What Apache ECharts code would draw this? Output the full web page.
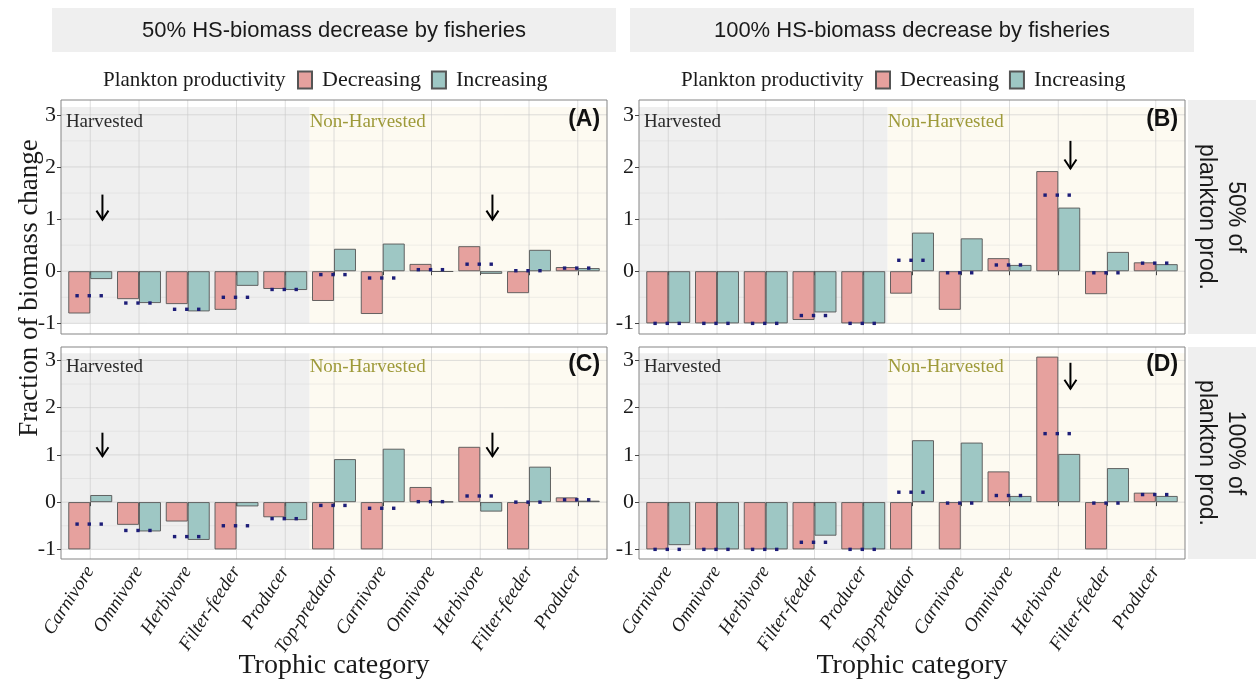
<!DOCTYPE html>
<html><head><meta charset="utf-8">
<script src="https://cdn.jsdelivr.net/npm/echarts@6/dist/echarts.min.js"></script>
<style>html,body{margin:0;padding:0;background:#fff}#c{width:1256px;height:684px}</style>
</head><body><div id="c"></div>
<script>
// ---------------- DATA ----------------
const categories = ['Carnivore','Omnivore','Herbivore','Filter-feeder','Producer','Top-predator','Carnivore','Omnivore','Herbivore','Filter-feeder','Producer'];
const harvestedCount = 5;               // first 5 categories are harvested
const yTicks = [-1, 0, 1, 2, 3];
const yMinor = [-0.5, 0.5, 1.5, 2.5];
const seriesNames = ['Decreasing', 'Increasing'];

// (A) 50% HS decrease, 50% plankton prod.
const decA = [-0.81, -0.535, -0.63, -0.74, -0.34, -0.57, -0.82, 0.14, 0.48, -0.42, 0.08];
const incA = [-0.15, -0.61, -0.77, -0.28, -0.36, 0.43, 0.53, -0.01, -0.05, 0.41, 0.06];
const refA = [-0.47, -0.61, -0.73, -0.50, -0.35, -0.065, -0.13, 0.03, 0.135, 0.01, 0.06];
// (B) 100% HS decrease, 50% plankton prod.
const decB = [-1, -1, -1, -0.935, -1, -0.43, -0.74, 0.25, 1.92, -0.44, 0.17];
const incB = [-0.99, -1, -1, -0.79, -1, 0.74, 0.63, 0.12, 1.22, 0.37, 0.135];
const refB = [-1, -1, -1, -0.85, -1, 0.21, -0.03, 0.12, 1.46, -0.03, 0.155];
// (C) 50% HS decrease, 100% plankton prod.
const decC = [-1, -0.48, -0.41, -1, -0.32, -1, -1, 0.32, 1.17, -1, 0.10];
const incC = [0.15, -0.62, -0.80, -0.09, -0.38, 0.91, 1.13, 0.01, -0.20, 0.75, 0.03];
const refC = [-0.465, -0.60, -0.73, -0.50, -0.35, -0.07, -0.13, 0.01, 0.13, 0.0, 0.05];
// (D) 100% HS decrease, 100% plankton prod.
const decD = [-1, -1, -1, -1, -1, -1, -1, 0.65, 3.08, -1, 0.20];
const incD = [-0.91, -1, -1, -0.71, -1, 1.31, 1.26, 0.13, 1.02, 0.72, 0.13];
const refD = [-1, -1, -1, -0.85, -1, 0.21, -0.02, 0.14, 1.45, -0.02, 0.16];
// arrows: [category index, y from, y to]
const arrowsA = [[0, 1.47, 0.99], [8, 1.47, 0.99]];
const arrowsB = [[8, 2.5, 1.97]];
const arrowsC = [[0, 1.47, 0.97], [8, 1.47, 0.97]];
const arrowsD = [[8, 2.95, 2.4]];

const colTitles = ['50% HS-biomass decrease by fisheries', '100% HS-biomass decrease by fisheries'];
const rowTitles = ['50% of\nplankton prod.', '100% of\nplankton prod.'];
const panelTags = ['(A)', '(B)', '(C)', '(D)'];

// ---------------- STYLE / LAYOUT ----------------
const SERIF = '"Liberation Serif","Times New Roman",serif';
const SANS = '"Liberation Sans",Arial,sans-serif';
const PINK = '#E6A19E', TEAL = '#9EC7C4', EDGE = '#555555';
const Y_MIN = -1.204, Y_MAX = 3.284, SHADE_TOP = 3.15, LABEL_Y = 2.87;
const BW = 48.75;           // band width
const PAD = 0.1 * BW;       // panel expansion beyond band edges
const colX = [61, 639];     // panel left borders
const rowY = [[100, 234], [347, 212]];

const panels = [
  {dec: decA, inc: incA, ref: refA, arrows: arrowsA, col: 0, row: 0},
  {dec: decB, inc: incB, ref: refB, arrows: arrowsB, col: 1, row: 0},
  {dec: decC, inc: incC, ref: refC, arrows: arrowsC, col: 0, row: 1},
  {dec: decD, inc: incD, ref: refD, arrows: arrowsD, col: 1, row: 1}
];

function bgRender(tag) {
  return function (params, api) {
    const cs = params.coordSys;
    const bw = api.size([1, 0])[0];
    const pad = 0.1 * bw;
    const x0 = cs.x - pad, x1 = cs.x + cs.width + pad, y0 = cs.y, y1 = cs.y + cs.height;
    const split = api.coord([harvestedCount - 1, 0])[0] + bw / 2;
    const rTop = api.coord([0, SHADE_TOP])[1], rBot = api.coord([0, -1])[1];
    const ch = [];
    ch.push({type: 'rect', shape: {x: x0, y: y0, width: x1 - x0, height: y1 - y0}, style: {fill: '#ffffff'}});
    ch.push({type: 'rect', shape: {x: x0, y: rTop, width: split - x0, height: rBot - rTop}, style: {fill: '#EFEFEF'}});
    ch.push({type: 'rect', shape: {x: split, y: rTop, width: x1 - split, height: rBot - rTop}, style: {fill: '#FDFAF1'}});
    yMinor.forEach(v => {
      const y = api.coord([0, v])[1];
      ch.push({type: 'line', shape: {x1: x0, y1: y, x2: x1, y2: y}, style: {stroke: 'rgba(200,200,200,0.45)', lineWidth: 0.6}});
    });
    yTicks.forEach(v => {
      const y = api.coord([0, v])[1];
      ch.push({type: 'line', shape: {x1: x0, y1: y, x2: x1, y2: y}, style: {stroke: 'rgba(200,200,200,0.6)', lineWidth: 1}});
    });
    categories.forEach((c, i) => {
      const x = api.coord([i, 0])[0];
      ch.push({type: 'line', shape: {x1: x, y1: y0, x2: x, y2: y1}, style: {stroke: 'rgba(200,200,200,0.6)', lineWidth: 1}});
    });
    const ly = api.coord([0, LABEL_Y])[1];
    ch.push({type: 'text', style: {text: 'Harvested', x: cs.x, y: ly, fill: '#2b2b2b', font: '19px ' + SERIF, align: 'left', verticalAlign: 'middle'}});
    ch.push({type: 'text', style: {text: 'Non-Harvested', x: split, y: ly, fill: '#9E9A3A', font: '19px ' + SERIF, align: 'left', verticalAlign: 'middle'}});
    ch.push({type: 'text', style: {text: tag, x: cs.x + cs.width - 2, y: ly - 2, fill: '#111', font: 'bold 23px ' + SANS, align: 'right', verticalAlign: 'middle'}});
    ch.push({type: 'rect', shape: {x: x0, y: y0, width: x1 - x0, height: y1 - y0}, style: {fill: 'none', stroke: '#858585', lineWidth: 1}});
    return {type: 'group', children: ch};
  };
}

function dotRender(params, api) {
  const c = api.coord([api.value(0), api.value(1)]);
  const bw = api.size([1, 0])[0];
  const offs = [-0.27, -0.02, 0.225];
  return {type: 'group', children: offs.map(o => ({
    type: 'rect', shape: {x: c[0] + o * bw - 1.7, y: c[1] - 1.7, width: 3.4, height: 3.4}, style: {fill: '#1d1d78'}
  }))};
}

function arrowRender(params, api) {
  const bw = api.size([1, 0])[0];
  const i = api.value(0);
  const p0 = api.coord([i, api.value(1)]), p1 = api.coord([i, api.value(2)]);
  const x = p0[0] + 0.25 * bw;
  return {type: 'group', children: [
    {type: 'line', shape: {x1: x, y1: p0[1], x2: x, y2: p1[1]}, style: {stroke: '#000', lineWidth: 2}},
    {type: 'polyline', shape: {points: [[x - 6, p1[1] - 9], [x, p1[1]], [x + 6, p1[1] - 9]]}, style: {stroke: '#000', lineWidth: 2, fill: 'none'}}
  ]};
}

const grid = [], xAxis = [], yAxis = [], series = [];
panels.forEach((p, k) => {
  const left = colX[p.col] + PAD;
  grid.push({left: left, top: rowY[p.row][0], width: 11 * BW, height: rowY[p.row][1], outerBoundsMode: 'none', containLabel: false});
  xAxis.push({
    gridIndex: k, type: 'category', data: categories, boundaryGap: true,
    axisLine: {show: false},
    axisTick: {show: true, interval: 0, alignWithLabel: true, length: 4, lineStyle: {color: '#444'}},
    axisLabel: {show: p.row === 1, interval: 0, rotate: 57, fontStyle: 'italic', fontFamily: SERIF, fontSize: 19, color: '#1a1a1a', margin: 9},
    splitLine: {show: false}
  });
  yAxis.push({
    gridIndex: k, type: 'value', min: Y_MIN, max: Y_MAX, offset: PAD,
    axisLine: {show: false},
    axisTick: {show: true, length: 4, customValues: yTicks, lineStyle: {color: '#444'}},
    axisLabel: {customValues: yTicks, fontFamily: SERIF, fontSize: 22, color: '#1a1a1a', margin: 5},
    splitLine: {show: false}
  });
  series.push({type: 'custom', xAxisIndex: k, yAxisIndex: k, data: [[0, 0]], encode: {x: 0, y: 1}, z: 0, silent: true, clip: false, renderItem: bgRender(panelTags[k])});
  series.push({type: 'bar', name: seriesNames[0], xAxisIndex: k, yAxisIndex: k, data: p.dec, barWidth: '45%', barGap: '0%', z: 2, silent: true,
    itemStyle: {color: PINK, borderColor: EDGE, borderWidth: 0.9}});
  series.push({type: 'bar', name: seriesNames[1], xAxisIndex: k, yAxisIndex: k, data: p.inc, barWidth: '45%', barGap: '0%', z: 2, silent: true,
    itemStyle: {color: TEAL, borderColor: EDGE, borderWidth: 0.9}});
  series.push({type: 'custom', xAxisIndex: k, yAxisIndex: k, data: p.ref.map((v, i) => [i, v]), encode: {x: 0, y: 1}, z: 3, silent: true, clip: false, renderItem: dotRender});
  series.push({type: 'custom', xAxisIndex: k, yAxisIndex: k, data: p.arrows, encode: {x: 0, y: [1, 2]}, z: 4, silent: true, clip: false, renderItem: arrowRender});
});

const legendBase = {data: seriesNames, top: 69, padding: 0, itemWidth: 14, itemHeight: 17, itemGap: 10, icon: 'rect', selectedMode: false,
  textStyle: {fontFamily: SERIF, fontSize: 22, color: '#1a1a1a', padding: [0, 0, 0, 5]}};
const legend = [Object.assign({}, legendBase, {left: 297}), Object.assign({}, legendBase, {left: 875})];

const graphic = [];
colTitles.forEach((t, j) => {
  const cx = colX[j] + 273;
  graphic.push({type: 'rect', left: cx - 282, top: 8, shape: {width: 564, height: 44}, style: {fill: '#EFEFEF'}, silent: true});
  graphic.push({type: 'text', x: cx, y: 31, style: {text: t, font: '22px ' + SANS, fill: '#1a1a1a', align: 'center', verticalAlign: 'middle'}, silent: true});
  graphic.push({type: 'text', x: colX[j] + 42, y: 80, style: {text: 'Plankton productivity', font: '21px ' + SERIF, fill: '#1a1a1a', align: 'left', verticalAlign: 'middle'}, silent: true});
  graphic.push({type: 'text', x: cx, y: 666, style: {text: 'Trophic category', font: '28px ' + SERIF, fill: '#1a1a1a', align: 'center', verticalAlign: 'middle'}, silent: true});
});
rowTitles.forEach((t, r) => {
  graphic.push({type: 'rect', left: 1188, top: rowY[r][0], shape: {width: 68, height: rowY[r][1]}, style: {fill: '#EFEFEF'}, silent: true});
  graphic.push({type: 'text', x: 1221, y: rowY[r][0] + rowY[r][1] / 2, rotation: -Math.PI / 2,
    style: {text: t, font: '23px ' + SANS, fill: '#1a1a1a', align: 'center', verticalAlign: 'middle', lineHeight: 29}, silent: true});
});
graphic.push({type: 'text', x: 30, y: 288, rotation: Math.PI / 2,
  style: {text: 'Fraction of biomass change', font: '27px ' + SERIF, fill: '#1a1a1a', align: 'center', verticalAlign: 'middle'}, silent: true});

const chart = echarts.init(document.getElementById('c'), null, {renderer: 'canvas'});
chart.setOption({animation: false, backgroundColor: '#ffffff', grid, xAxis, yAxis, series, legend, graphic});
</script></body></html>
